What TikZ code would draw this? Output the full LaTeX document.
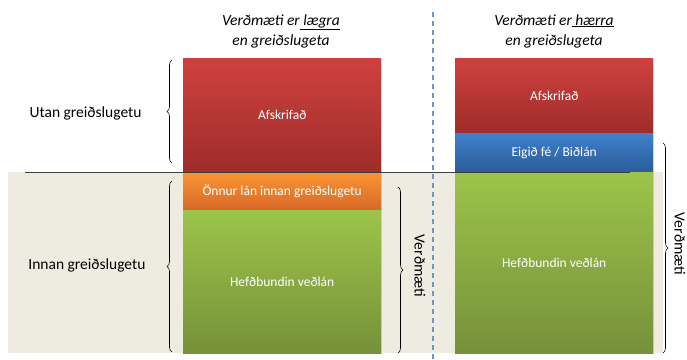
\documentclass[tikz,border=0pt]{standalone}
\usepackage{fontspec}
\setmainfont{Carlito}
\usetikzlibrary{decorations.pathreplacing,shadows}
\definecolor{bgbeige}{RGB}{238,236,225}
\definecolor{redtop}{RGB}{207,65,63}
\definecolor{redbot}{RGB}{158,44,42}
\definecolor{ortop}{RGB}{250,150,52}
\definecolor{orbot}{RGB}{214,104,40}
\definecolor{grtop}{RGB}{157,196,74}
\definecolor{grbot}{RGB}{117,145,58}
\definecolor{bltop}{RGB}{64,128,204}
\definecolor{blbot}{RGB}{42,92,152}
\definecolor{dashblue}{RGB}{110,150,200}
\tikzset{
  block/.style={anchor=north west, minimum width=198pt, inner sep=0pt, text=white, font=\fontsize{13.5}{16}\selectfont, drop shadow={shadow xshift=1pt, shadow yshift=-1pt, opacity=0.25}},
  redb/.style={block, top color=redtop, bottom color=redbot},
  orb/.style={block, top color=ortop, bottom color=orbot},
  grb/.style={block, top color=grtop, bottom color=grbot},
  blb/.style={block, top color=bltop, bottom color=blbot},
  bracel/.style={decorate, decoration={brace, amplitude=5pt}, line width=0.6pt},
  lab/.style={font=\fontsize{15.5}{18}\selectfont},
  ttl/.style={font=\itshape\fontsize{15.5}{20}\selectfont, align=center},
}
\begin{document}
\begin{tikzpicture}[x=1pt,y=-1pt]
\useasboundingbox (0,0) rectangle (687,359);
\fill[bgbeige] (8,172) rectangle (663,353);
% left column
\node[redb, minimum height=114pt] (lred) at (183,58) {Afskrifað};
\node[orb, minimum height=38pt] (lor) at (183,172) {Önnur lán innan greiðslugetu};
\node[grb, minimum height=143pt] (lgr) at (183,210) {Hefðbundin veðlán};
% right column
\node[redb, minimum height=75pt] (rred) at (455,58) {Afskrifað};
\node[blb, minimum height=39pt] (rbl) at (455,133) {Eigið fé / Biðlán};
\node[grb, minimum height=181pt] (rgr) at (455,172) {Hefðbundin veðlán};
% divider line
\coordinate (hl1) at (25,172);
\coordinate (hl2) at (630,172);
\draw[line width=0.8pt, black!75] (hl1) -- (hl2);
% dashed separator
\coordinate (d1) at (433,12);
\coordinate (d2) at (433,359);
\draw[dashblue, line width=1.2pt, dash pattern=on 5pt off 4pt] (d1) -- (d2);
% titles
\node[ttl] (t1) at (281,31) {Verðmæti er\underline{ lægra}\\en greiðslugeta};
\node[ttl] (t2) at (554,31) {Verðmæti er\underline{ hærra}\\en greiðslugeta};
% left labels and braces
\coordinate (b1s) at (172,163);
\coordinate (b1e) at (172,60);
\draw[bracel] (b1s) -- (b1e);
\node[lab, anchor=east] (utan) at (145,113) {Utan greiðslugetu};
\coordinate (b2s) at (172,352);
\coordinate (b2e) at (172,181);
\draw[bracel] (b2s) -- (b2e);
\node[lab, anchor=east] (innan) at (149,265) {Innan greiðslugetu};
% right-side braces
\coordinate (b3s) at (398,187);
\coordinate (b3e) at (398,353);
\draw[bracel] (b3s) -- (b3e);
\node[lab, rotate=-90] (v1) at (420,266) {Verðmæti};
\coordinate (b4s) at (663,143);
\coordinate (b4e) at (663,353);
\draw[bracel] (b4s) -- (b4e);
\node[lab, rotate=-90] (v2) at (680,244) {Verðmæti};
\end{tikzpicture}
\end{document}
